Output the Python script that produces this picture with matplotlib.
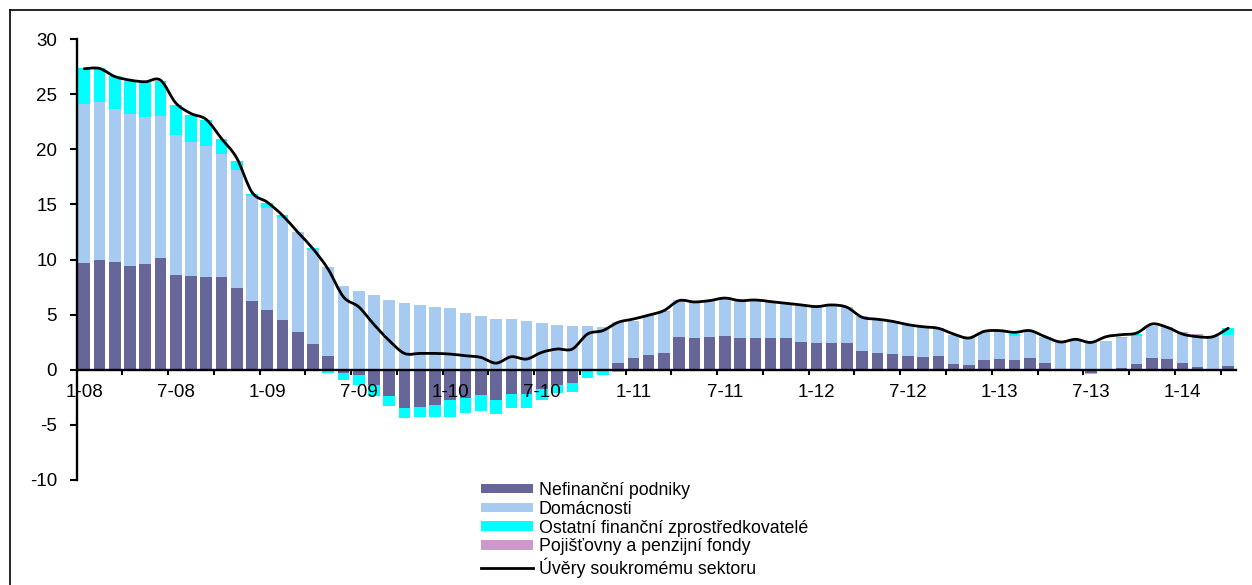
import numpy as np
import matplotlib.pyplot as plt
from matplotlib.patches import Patch, PathPatch
from matplotlib.lines import Line2D
from matplotlib.path import Path

plt.rcParams['font.family'] = ['Liberation Sans', 'DejaVu Sans']
plt.rcParams['axes.unicode_minus'] = False

# monthly data 1-08 .. 4-14
tick_labels = ['1-08', '7-08', '1-09', '7-09', '1-10', '7-10', '1-11',
               '7-11', '1-12', '7-12', '1-13', '7-13', '1-14']

nefinancni = [9.67, 9.91, 9.76, 9.45, 9.58, 10.12, 8.58, 8.52, 8.39, 8.39,
              7.45, 6.21, 5.39, 4.48, 3.39, 2.3, 1.21, -0.3, -0.45, -1.4,
              -2.36, -3.45, -3.36, -3.18, -2.76, -2.58, -2.3, -2.73, -2.21, -2.21,
              -1.76, -1.36, -1.24, -0.05, 0.05, 0.65, 1.03, 1.36, 1.55, 2.94,
              2.9, 2.94, 3.03, 2.85, 2.85, 2.9, 2.85, 2.48, 2.39, 2.42,
              2.39, 1.67, 1.55, 1.42, 1.22, 1.13, 1.25, 0.55, 0.42, 0.91,
              0.97, 0.91, 1.09, 0.58, 0.05, 0.02, -0.3, 0.02, 0.15, 0.48,
              1.09, 1.0, 0.64, 0.27, -0.15, 0.36]

domacnosti = [14.42, 14.39, 13.88, 13.73, 13.3, 12.94, 12.69, 12.15, 11.91, 11.21,
              10.64, 9.59, 9.28, 9.31, 9.09, 8.58, 8.09, 7.6, 7.18, 6.82,
              6.36, 6.09, 5.88, 5.73, 5.64, 5.15, 4.91, 4.64, 4.64, 4.45,
              4.27, 4.09, 4.0, 3.94, 3.86, 3.68, 3.42, 3.54, 3.65, 3.39,
              3.3, 3.33, 3.47, 3.48, 3.48, 3.25, 3.21, 3.32, 3.28, 3.46,
              3.28, 3.23, 3.05, 2.97, 2.93, 2.82, 2.55, 2.63, 2.52, 2.48,
              2.51, 2.18, 2.33, 2.42, 2.5, 2.62, 2.52, 2.62, 2.73, 2.61,
              2.91, 2.85, 2.66, 2.91, 3.09, 2.82]

ostatni = [3.24, 3.03, 3.0, 3.02, 3.21, 3.09, 2.7, 2.48, 2.34, 1.37,
           0.88, 0.15, 0.45, 0.21, 0.0, 0.18, -0.33, -0.64, -0.91, -1.0,
           -0.91, -0.97, -0.97, -1.09, -1.51, -1.36, -1.43, -1.24, -1.27, -1.27,
           -1.0, -0.76, -0.82, -0.7, -0.5, -0.24, 0.0, 0.05, 0.1, -0.1,
           -0.1, -0.05, 0.0, 0.0, 0.0, 0.0, -0.08, 0.0, 0.0, 0.0,
           0.0, -0.1, -0.05, 0.0, 0.0, -0.1, -0.08, 0.0, 0.0, 0.0,
           0.05, 0.15, 0.0, 0.0, 0.0, 0.0, 0.0, 0.0, 0.1, 0.15,
           0.0, 0.0, -0.15, -0.12, 0.0, 0.58]

pojistovny = [0.0] * 65 + [0.05, -0.1, 0.0, 0.0, 0.0, 0.0, 0.0, 0.1, 0.05, 0.0, 0.0]

uvery = [27.3, 27.33, 26.6, 26.27, 26.12, 26.27, 24.2, 23.24, 22.7, 20.97,
         19.2, 16.1, 15.2, 14.0, 12.48, 10.97, 9.1, 6.6, 5.7, 4.1,
         2.64, 1.48, 1.48, 1.48, 1.42, 1.27, 1.12, 0.6, 1.18, 0.97,
         1.58, 1.88, 1.88, 3.24, 3.55, 4.3, 4.6, 4.95, 5.36, 6.27,
         6.15, 6.27, 6.5, 6.27, 6.33, 6.18, 6.03, 5.88, 5.73, 5.88,
         5.67, 4.76, 4.58, 4.39, 4.09, 3.9, 3.76, 3.24, 2.88, 3.48,
         3.55, 3.39, 3.55, 3.0, 2.52, 2.76, 2.48, 3.0, 3.18, 3.33,
         4.15, 3.85, 3.24, 3.0, 3.0, 3.76]

series = [
    ('Nefinanční podniky', nefinancni, '#666699'),
    ('Domácnosti', domacnosti, '#A6CAF0'),
    ('Ostatní finanční zprostředkovatelé', ostatni, '#00FFFF'),
    ('Pojišťovny a penzijní fondy', pojistovny, '#CC99CC'),
]

n = len(uvery)
x = np.arange(n)

fig = plt.figure(figsize=(12.52, 5.85), dpi=100)
ax = fig.add_axes([76.6 / 1252, 1 - 480 / 585, (1235.8 - 76.6) / 1252, 441 / 585])
ax.set_axisbelow(False)

pos_base = np.zeros(n)
neg_base = np.zeros(n)
for name, vals, col in series:
    v = np.array(vals)
    base = np.where(v >= 0, pos_base, neg_base)
    ax.bar(x, v, bottom=base, width=0.76, color=col, linewidth=0, zorder=1)
    pos_base += np.clip(v, 0, None)
    neg_base += np.clip(v, None, 0)

# smoothed line like Excel: bezier segments through the data points
pts = np.column_stack([x, uvery]).astype(float)
ext = np.vstack([pts[0], pts, pts[-1]])
verts = [tuple(pts[0])]
codes = [Path.MOVETO]
for i in range(n - 1):
    p0, p1, p2, p3 = ext[i], ext[i + 1], ext[i + 2], ext[i + 3]
    c1 = p1 + (p2 - p0) / 6
    c2 = p2 - (p3 - p1) / 6
    verts += [tuple(c1), tuple(c2), tuple(p2)]
    codes += [Path.CURVE4] * 3
ax.add_patch(PathPatch(Path(verts, codes), facecolor='none', edgecolor='black',
                       linewidth=2.0, zorder=3, joinstyle='round', capstyle='round'))

ax.set_xlim(-0.5, n - 0.5)
ax.set_ylim(-10, 30)
ax.set_yticks(np.arange(-10, 31, 5))

ax.set_xticks(np.arange(0, n, 6))
ax.set_xticklabels(tick_labels)
ax.set_xticks(np.arange(2.5, n - 1, 3), minor=True)
ax.tick_params(axis='x', which='major', length=0, pad=10, labelsize=13.5)
ax.tick_params(axis='x', which='minor', length=3.5, width=1.5, direction='out')
ax.tick_params(axis='y', length=5, width=1.5, pad=9, labelsize=13.5)

ax.spines['top'].set_visible(False)
ax.spines['right'].set_visible(False)
ax.spines['bottom'].set_position(('data', 0))
ax.spines['bottom'].set_linewidth(1.7)
ax.spines['left'].set_linewidth(1.7)

handles = [Patch(facecolor=col, edgecolor='none', label=name) for name, _, col in series]
handles.append(Line2D([], [], color='black', linewidth=2.0, label='Úvěry soukromému sektoru'))
fig.legend(handles=handles, loc='upper left', bbox_to_anchor=(481 / 1252, 1 - 482 / 585),
           frameon=False, fontsize=12.8, handlelength=2.9, handleheight=0.45,
           handletextpad=0.35, labelspacing=0.1, borderpad=0, borderaxespad=0)

# outer frame
fig.add_artist(Line2D([10 / 1252, 10 / 1252], [0, 1 - 10 / 585], color='black', linewidth=1.2,
                      transform=fig.transFigure))
fig.add_artist(Line2D([10 / 1252, 1], [1 - 10 / 585, 1 - 10 / 585], color='black', linewidth=1.2,
                      transform=fig.transFigure))

fig.savefig('out.png', dpi=100)
